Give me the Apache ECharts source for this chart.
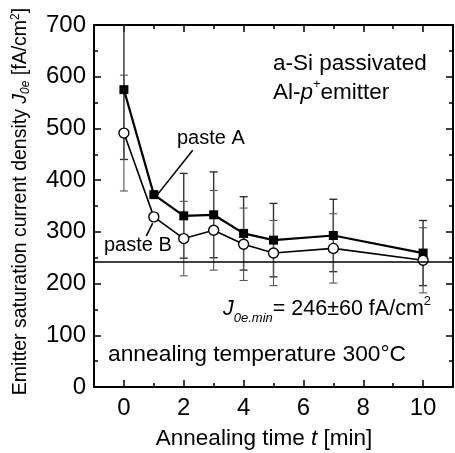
<!DOCTYPE html>
<html><head><meta charset="utf-8">
<script src="https://cdn.jsdelivr.net/npm/echarts@6/dist/echarts.min.js"></script>
<style>html,body{margin:0;padding:0;background:#fff}#c{width:455px;height:453px}</style>
</head><body><div id="c"></div>
<script>
// ---- data ----
const times = [0, 1, 2, 3, 4, 5, 7, 10];
const pasteA = [575, 372, 331, 333, 297, 284, 293, 259];
const pasteAErr = [135, null, 82, 83, 71, 71, 70, 63];
const pasteB = [491, 329, 287, 303, 276, 259, 268, 245];
const pasteBErr = [112, null, 72, 77, 70, 63, 67, 63];
const jMin = 243;
const xMajorTicks = [0, 2, 4, 6, 8, 10];
const xMinorTicks = [-1, 1, 3, 5, 7, 9, 11];
const yTickLabels = [0, 100, 200, 300, 400, 500, 600, 700];

const FONT = 'Liberation Sans, Arial, sans-serif';

function pts(vals) { return times.map((t, i) => [t, vals[i]]); }
function errs(vals, e) {
  return times.map((t, i) => e[i] == null ? null : [t, vals[i] - e[i], vals[i] + e[i]]).filter(Boolean);
}
function errRender(color, w) {
  return function (params, api) {
    const x = api.value(0);
    const lo = api.coord([x, api.value(1)]);
    const hi = api.coord([x, api.value(2)]);
    const cw = 4;
    const st = { stroke: color, lineWidth: w };
    return { type: 'group', children: [
      { type: 'line', shape: { x1: lo[0], y1: lo[1], x2: hi[0], y2: hi[1] }, style: st },
      { type: 'line', shape: { x1: lo[0] - cw, y1: lo[1], x2: lo[0] + cw, y2: lo[1] }, style: st },
      { type: 'line', shape: { x1: hi[0] - cw, y1: hi[1], x2: hi[0] + cw, y2: hi[1] }, style: st }
    ]};
  };
}

const axisLineStyle = { color: '#000', width: 2 };
const tickStyle = { color: '#000', width: 1.5 };

function xAxisDef(pos, major, showLabel) {
  return {
    type: 'value', min: -1, max: 11, interval: 1, position: pos,
    axisLine: { show: major, onZero: false, lineStyle: axisLineStyle },
    axisTick: { show: true, inside: true, length: major ? 7 : 4, customValues: major ? xMajorTicks : xMinorTicks, lineStyle: tickStyle },
    axisLabel: { show: showLabel, customValues: xMajorTicks, margin: 9, color: '#000', fontSize: 24, fontFamily: FONT,
      formatter: v => (v % 2 === 0 && v >= 0 && v <= 10) ? String(v) : '' },
    splitLine: { show: false }
  };
}
function yAxisDef(pos, showLabel) {
  return {
    type: 'value', min: 0, max: 700, interval: 100, position: pos,
    axisLine: { show: true, onZero: false, lineStyle: axisLineStyle },
    axisTick: { show: true, inside: true, length: 7, lineStyle: tickStyle },
    minorTick: { show: true, splitNumber: 2, length: 4, lineStyle: tickStyle },
    axisLabel: { show: showLabel, margin: 8, color: '#000', fontSize: 24, fontFamily: FONT,
      customValues: yTickLabels },
    splitLine: { show: false }
  };
}

const xMain = xAxisDef('bottom', true, true);
xMain.name = '{n|Annealing time }{i|t}{n| [min]}';
xMain.nameLocation = 'middle';
xMain.nameGap = 40;
xMain.nameTextStyle = { padding: [0, 19, 0, 0], rich: {
  n: { fontSize: 22.5, fontFamily: FONT, color: '#000' },
  i: { fontSize: 22.5, fontFamily: FONT, fontStyle: 'italic', color: '#000' } } };

const yMain = yAxisDef('left', true);
yMain.name = '{n|Emitter saturation current density }{i|J}{sub|0e}{n| [fA/cm}{sup|2}{n|]}';
yMain.nameLocation = 'middle';
yMain.nameGap = 62;
yMain.nameTextStyle = { padding: [0, 0, 0, 9], rich: {
  n: { fontSize: 19.5, fontFamily: FONT, color: '#000', lineHeight: 22 },
  i: { fontSize: 19.5, fontFamily: FONT, fontStyle: 'italic', color: '#000', lineHeight: 22 },
  sub: { fontSize: 12, fontFamily: FONT, fontStyle: 'italic', color: '#000', lineHeight: 12, verticalAlign: 'bottom' },
  sup: { fontSize: 12, fontFamily: FONT, color: '#000', lineHeight: 12, verticalAlign: 'top' } } };

function richMain(size) {
  return {
    n: { fontSize: size, fontFamily: FONT, color: '#000', lineHeight: 30 },
    i: { fontSize: size, fontFamily: FONT, fontStyle: 'italic', color: '#000', lineHeight: 30 },
    sub: { fontSize: 13, fontFamily: FONT, fontStyle: 'italic', color: '#000', lineHeight: 13, verticalAlign: 'bottom' },
    sup: { fontSize: 13, fontFamily: FONT, color: '#000', lineHeight: 13, verticalAlign: 'top' }
  };
}

function txt(x, y, text, size, rich) {
  const style = { text: text, fill: '#000', font: size + 'px ' + FONT, align: 'left', verticalAlign: 'middle',
    textAlign: 'left', textVerticalAlign: 'middle' };
  if (rich) style.rich = rich;
  return { type: 'text', x: x, y: y, z: 100, style: style };
}

const option = {
  animation: false,
  backgroundColor: '#fff',
  grid: { left: 94, right: 2, top: 25, bottom: 66, containLabel: false, outerBoundsMode: 'none' },
  xAxis: [xMain, xAxisDef('bottom', false, false), xAxisDef('top', true, false), xAxisDef('top', false, false)],
  yAxis: [yMain, yAxisDef('right', false)],
  series: [
    { type: 'custom', name: 'errA', xAxisIndex: 0, yAxisIndex: 0, clip: true, z: 1,
      renderItem: errRender('#333', 1.4), encode: { x: 0, y: [1, 2] }, data: errs(pasteA, pasteAErr) },
    { type: 'custom', name: 'errB', xAxisIndex: 0, yAxisIndex: 0, clip: true, z: 1,
      renderItem: errRender('#555', 1.1), encode: { x: 0, y: [1, 2] }, data: errs(pasteB, pasteBErr) },
    { type: 'line', name: 'paste A', xAxisIndex: 0, yAxisIndex: 0, z: 3,
      data: pts(pasteA), symbol: 'rect', symbolSize: 9,
      itemStyle: { color: '#000' }, lineStyle: { color: '#000', width: 2.2 },
      markLine: { silent: true, symbol: 'none', label: { show: false }, animation: false,
        lineStyle: { color: '#000', width: 1.6, type: 'solid' },
        data: [
          { yAxis: jMin },
          [{ coord: [1.12, 372] }, { coord: [2.3, 458] }],
          [{ coord: [0.75, 292] }, { coord: [0.96, 317] }]
        ] } },
    { type: 'line', name: 'paste B', xAxisIndex: 0, yAxisIndex: 0, z: 4,
      data: pts(pasteB), symbol: 'circle', symbolSize: 10,
      itemStyle: { color: '#fff', borderColor: '#000', borderWidth: 1.4 }, lineStyle: { color: '#000', width: 1.6 } }
  ],
  graphic: [
    txt(273, 63.5, 'a-Si passivated', 22.5),
    txt(273, 93, '{n|Al-}{i|p}{sup|+}{n|emitter}', 22.5, richMain(22.5)),
    txt(177, 138, 'paste A', 20),
    txt(104, 245, 'paste B', 20),
    txt(223, 309.5, '{i|J}{sub|0e.min}{n|= 246±60 fA/cm}{sup|2}', 21.5, richMain(21.5)),
    txt(108, 355, 'annealing temperature 300°C', 22.8)
  ]
};

const chart = echarts.init(document.getElementById('c'), null, { renderer: 'canvas' });
chart.setOption(option);
</script>
</body></html>
